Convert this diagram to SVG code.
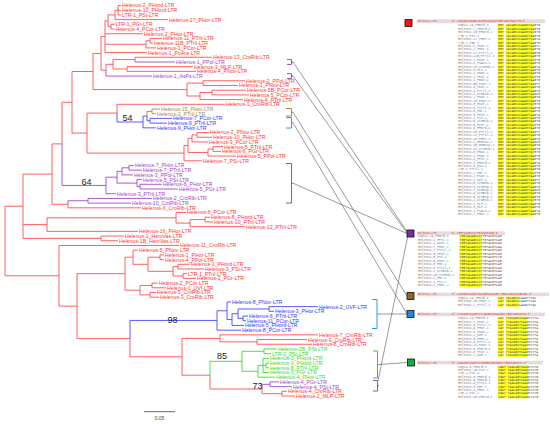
<svg xmlns="http://www.w3.org/2000/svg" width="550" height="424" viewBox="0 0 550 424">
<style>
text{font-family:"Liberation Sans",Arial,sans-serif}
.l{font-size:5.2px}
.r{fill:#ff3535}.p{fill:#a43fc4}.b{fill:#3636ff}.t{fill:#a8884c}.g{fill:#2fdc2f}
path{fill:none;stroke-width:0.9}
.sr{stroke:#ff4f4f}.sp{stroke:#a447c8}.sb{stroke:#4848ff}.st{stroke:#a8884c}.sg{stroke:#2fe02f}
.bk{stroke-width:1}
.bs{font-size:9px;fill:#222}
.con{stroke:#555;stroke-width:0.6}
.nm{font-family:"Liberation Mono","Courier New",monospace;font-size:3.2px;fill:#777}
.sq{font-family:"Liberation Mono","Courier New",monospace;font-size:3.2px;fill:#555}
.hd{font-family:"Liberation Mono","Courier New",monospace;font-size:2.8px;fill:#ff3030}
.hb{fill:#e4dcdc}
.y{fill:#ffff22}
.mk{stroke:#111;stroke-width:0.8}
</style>
<g id="tree-branches">
<path class="sr" d="M118 5.5V14.91M118 5.5H121M118 10.21H121M118 14.91H121M115 10.21V19.62M115 10.21H118M115 19.62H168M111 24.32V29.03M111 24.32H114.5M111 29.03H114.5M108 14.9V26.7M108 14.9H115M108 26.7H111M150 38.44V43.14M150 38.44H162M150 43.14H153M146 40.8V47.85M146 40.8H150M146 47.85H156M105 20.8V52.55M105 20.8H108M105 33.73H143M105 44.3H146M105 52.55H147M135 57.26V59.6M135 57.26H212M127 66.67V71.37M127 66.67H193M127 71.37H196M113 59.6V69M113 59.6H135M113 69H127M106 64.3V70.2M106 64.3H113M101 36.65V70.2M101 36.65H105M101 70.2H106M203 80.78V85.49M203 80.78H245M203 85.49H238M212 90.19V94.9M212 90.19H246M212 94.9H249M200 92.5V99.6M200 92.5H212M200 99.6H243M187 83.1V96M187 83.1H203M187 96H200M93 53.4V89.6M93 53.4H101M93 89.6H187M117 104.31V113.1M117 104.31H225M197 132.54V137.24M197 132.54H209M197 137.24H212M192 134.9V141.95M192 134.9H197M192 141.95H208M213 146.65V151.36M213 146.65H223M213 151.36H221M208 149V156.06M208 149H213M208 156.06H236M188 138.4V152.5M188 138.4H192M188 152.5H208M184 145.45V160.77M184 145.45H188M184 160.77H202M87 113.1V153.1M87 113.1H117M87 153.1H184M72 71.5V133.1M72 71.5H93M72 133.1H87M62 102.3V143.9M62 102.3H72M52 143.9V204.3H68M52 143.9H62M68 204.3V207.82H141M205 217.23V221.93M205 217.23H210M205 221.93H213M190 219.6V226.64M190 219.6H205M190 226.64H245M176 212.52V223.1M176 212.52H186M176 223.1H190M47 217.8V231.34M47 217.8H176M47 231.34H138M23 174.1V238.4M23 174.1H52M23 224.6H47M23 238.4H101M101 236.05V240.75M101 236.05H124M101 240.75H118M5 206.25V275.8M5 206.25H23M5 275.8H59M160 254.87V259.57M160 254.87H164M160 259.57H164M178 264.28V268.98M178 264.28H190M178 268.98H204M183 273.69V278.39M183 273.69H187M183 278.39H196M173 266.63V276.04M173 266.63H178M173 276.04H183M148 257.22V271.3M148 257.22H160M148 271.3H173M133 250.16V264.3M133 250.16H138M133 264.3H148M152 283.1V287.8M152 283.1H158M152 287.8H166M150 292.51V297.21M150 292.51H156M150 297.21H159M140 285.45V294.86M140 285.45H152M140 294.86H150M125 257.2V290.2M125 257.2H133M125 290.2H140M77 273.7V338.6M77 273.7H125M77 338.6H130M59 245.46V306.15M59 245.46H179M59 306.15H77M130 338.6V356.8H182M182 338.4V375.2M182 338.4H220M182 375.2H210M220 334.85V341.9M220 334.85H318M220 341.9H257M257 339.56V344.26M257 339.56H307M257 344.26H312M210 375.2V389H262M262 389V393.7H282M282 391.31V396.02M282 391.31H287M282 396.02H295"/>
<path class="sp" d="M135 59.6V61.96H175M106 70.2V76.08H152M129 165.47V170.18M129 165.47H134M129 170.18H142M122 167.8V174.88M122 167.8H129M122 174.88H133M140 184.29V189M140 184.29H162M140 189H178M137 179.59V186.65M137 179.59H142M137 186.65H140M117 171.35V183.1M117 171.35H122M117 183.1H137M106 177.2V193.7M106 177.2H117M106 193.7H116M62 143.9V185.45H106M68 200.76V204.3M68 200.76H88M88 198.41V203.11M88 198.41H152M88 203.11H131M262 384.3V389M262 384.3H270M270 381.9V386.61M270 381.9H279M270 386.61H292"/>
<path class="st" d="M152 109.01V113.72M152 109.01H160M152 113.72H156M147 111.37V116.1M147 111.37H152"/>
<path class="sb" d="M150 118.42V123.13M150 118.42H172M150 123.13H167M147 116.1V120.78H150M143 116.1V127.83M143 116.1H147M143 127.83H156M117 113.1V121.97H143M269 306.62V311.33M269 306.62H318M269 311.33H274M243 316.03V320.74M243 316.03H248M243 320.74H246M238 308.98V318.39M238 308.98H269M238 318.39H243M232 313.7V325.44M232 313.7H238M232 325.44H244M227 301.92V319.57M227 301.92H231M227 319.57H232M217 310.75V330.15M217 310.75H227M217 330.15H241M130 320.45V338.6M130 320.45H217"/>
<path class="sg" d="M264 348.97V353.67M264 348.97H277M264 353.67H271M266 363.08V367.79M266 363.08H269M266 367.79H269M263 358.38V372.49M263 358.38H269M263 365.4H266M263 372.49H269M258 365.4V377.2M258 365.4H263M258 377.2H275M242 351.32V371.3M242 351.32H264M242 371.3H258M210 361.3V375.2M210 361.3H242"/>
</g>
<g id="support-values">
<text class="bs" x="122.5" y="121">54</text>
<text class="bs" x="81.5" y="184.5">64</text>
<text class="bs" x="167.5" y="323">98</text>
<text class="bs" x="217" y="358.8">85</text>
<text class="bs" x="252.5" y="388.5">73</text>
</g>
<g id="scale-bar">
<path d="M144 411.7H175" style="stroke:#444;stroke-width:0.8"/>
<text x="159.5" y="419.5" style="font-size:5px;fill:#444" text-anchor="middle">0.05</text>
</g>
<g id="leaf-labels" class="l">
<text class="r" x="122" y="7.4">Helenus-2_PHord-LTR</text>
<text class="r" x="122" y="12.1">Helenus-10_PHord-LTR</text>
<text class="r" x="122" y="16.8">LTR-1_PSt-LTR</text>
<text class="r" x="169" y="21.5">Helenus-17_PHor-LTR</text>
<text class="r" x="115.5" y="26.2">LTR-1_PGt-LTR</text>
<text class="r" x="115.5" y="30.9">Helenus-4_PCor-LTR</text>
<text class="r" x="144" y="35.6">Helenus-2_PHor-LTR</text>
<text class="r" x="163" y="40.3">Helenus-11_PTril-LTR</text>
<text class="r" x="154" y="45">Helenus-11B_PTril-LTR</text>
<text class="r" x="157" y="49.8">Helenus-1_PCor-LTR</text>
<text class="r" x="148" y="54.5">Helenus-1_PuAra-LTR</text>
<text class="r" x="213" y="59.2">Helenus-13_CroRib-LTR</text>
<text class="p" x="176" y="63.9">Helenus-1_PPol-LTR</text>
<text class="r" x="194" y="68.6">Helenus-3_MLP-LTR</text>
<text class="r" x="197" y="73.3">Helenus-4_PNov-LTR</text>
<text class="p" x="153" y="78">Helenus-1_AsPs-LTR</text>
<text class="r" x="246" y="82.7">Helenus-2_PPol-LTR</text>
<text class="r" x="239" y="87.4">Helenus-1_PNov-LTR</text>
<text class="r" x="247" y="92.1">Helenus-5B_PCor-LTR</text>
<text class="r" x="250" y="96.8">Helenus-5_PCor-LTR</text>
<text class="r" x="244" y="101.5">Helenus-4_PTril-LTR</text>
<text class="r" x="226" y="106.2">Helenus-1_CroRib-LTR</text>
<text class="t" x="161" y="110.9">Helenus-15_PHor-LTR</text>
<text class="t" x="157" y="115.6">Helenus-2_PTril-LTR</text>
<text class="b" x="173" y="120.3">Helenus-7_PCor-LTR</text>
<text class="b" x="168" y="125">Helenus-9_PTril-LTR</text>
<text class="b" x="157" y="129.7">Helenus-9_PHor-LTR</text>
<text class="r" x="210" y="134.4">Helenus-2_PNov-LTR</text>
<text class="r" x="213" y="139.1">Helenus-10_PHor-LTR</text>
<text class="r" x="209" y="143.9">Helenus-3_PCor-LTR</text>
<text class="r" x="224" y="148.6">Helenus-5_PTril-LTR</text>
<text class="r" x="222" y="153.3">Helenus-6_PGr-LTR</text>
<text class="r" x="237" y="158">Helenus-5_PPol-LTR</text>
<text class="r" x="203" y="162.7">Helenus-7_PSt-LTR</text>
<text class="p" x="135" y="167.4">Helenus-7_PHor-LTR</text>
<text class="p" x="143" y="172.1">Helenus-7_PTril-LTR</text>
<text class="p" x="134" y="176.8">Helenus-3_PPol-LTR</text>
<text class="p" x="143" y="181.5">Helenus-5_PSt-LTR</text>
<text class="p" x="163" y="186.2">Helenus-6_PHor-LTR</text>
<text class="p" x="179" y="190.9">Helenus-5_PGr-LTR</text>
<text class="p" x="117" y="195.6">Helenus-3_PTril-LTR</text>
<text class="p" x="153" y="200.3">Helenus-2_CroRib-LTR</text>
<text class="p" x="132" y="205">Helenus-10_CroRib-LTR</text>
<text class="r" x="142" y="209.7">Helenus-6_CroRib-LTR</text>
<text class="r" x="187" y="214.4">Helenus-6_PCor-LTR</text>
<text class="r" x="211" y="219.1">Helenus-8_PHord-LTR</text>
<text class="r" x="214" y="223.8">Helenus-10_PTril-LTR</text>
<text class="r" x="246" y="228.5">Helenus-12_PTril-LTR</text>
<text class="r" x="139" y="233.2">Helenus-16_PHor-LTR</text>
<text class="r" x="125" y="238">Helenus-1_HemVas-LTR</text>
<text class="r" x="119" y="242.7">Helenus-1B_HemVas-LTR</text>
<text class="r" x="180" y="247.4">Helenus-11_CroRib-LTR</text>
<text class="r" x="139" y="252.1">Helenus-5_PNov-LTR</text>
<text class="r" x="165" y="256.8">Helenus-1_PHor-LTR</text>
<text class="r" x="165" y="261.5">Helenus-4_PPol-LTR</text>
<text class="r" x="191" y="266.2">Helenus-1_PHord-LTR</text>
<text class="r" x="205" y="270.9">Helenus-3_PSt-LTR</text>
<text class="r" x="188" y="275.6">LTR-1_PTril-LTR</text>
<text class="r" x="197" y="280.3">Helenus-2_PGr-LTR</text>
<text class="r" x="159" y="285">Helenus-2_PCor-LTR</text>
<text class="r" x="167" y="289.7">Helenus-1_UVf-LTR</text>
<text class="r" x="157" y="294.4">Helenus-5_CroRib-LTR</text>
<text class="r" x="160" y="299.1">Helenus-3_CroRib-LTR</text>
<text class="b" x="232" y="303.8">Helenus-8_PNov-LTR</text>
<text class="b" x="319" y="308.5">Helenus-2_UVF-LTR</text>
<text class="b" x="275" y="313.2">Helenus-3_PHor-LTR</text>
<text class="b" x="249" y="317.9">Helenus-6_PTril-LTR</text>
<text class="b" x="247" y="322.6">Helenus-11_PCor-LTR</text>
<text class="b" x="245" y="327.3">Helenus-5_PHord-LTR</text>
<text class="b" x="242" y="332.1">Helenus-8_PCor-LTR</text>
<text class="r" x="319" y="336.8">Helenus-7_CroRib-LTR</text>
<text class="r" x="308" y="341.5">Helenus-9_CroRib-LTR</text>
<text class="r" x="313" y="346.2">Helenus-8_CroRib-LTR</text>
<text class="g" x="278" y="350.9">Helenus-2B_PSt-LTR</text>
<text class="g" x="272" y="355.6">LTR-2_PSt-LTR</text>
<text class="g" x="270" y="360.3">Helenus-3_PHord-LTR</text>
<text class="g" x="270" y="365">Helenus-9_PHord-LTR</text>
<text class="g" x="270" y="369.7">Helenus-8_PTril-LTR</text>
<text class="g" x="270" y="374.4">Helenus-3_PGr-LTR</text>
<text class="g" x="276" y="379.1">Helenus-4_PHor-LTR</text>
<text class="p" x="280" y="383.8">Helenus-4_PGr-LTR</text>
<text class="p" x="293" y="388.5">Helenus-4_PSt-LTR</text>
<text class="r" x="288" y="393.2">Helenus-4_CroRib-LTR</text>
<text class="r" x="296" y="397.9">Helenus-2_MLP-LTR</text>
</g>
<g id="brackets">
<path class="sp bk" d="M287 59.6H291.5V64.4H287M291.5 62H293"/>
<path class="sp bk" d="M287 73.7H291.5V78.4H287M291.5 76H293"/>
<path class="st bk" d="M286 108.5H291.5V116H286M291.5 112.2H293"/>
<path class="bk" style="stroke:#3a9ad9" d="M286 117.6H291.5V128H286M291.5 122.8H293"/>
<path class="sp bk" d="M286 163.5H291.5V203H286M291.5 183.2H293"/>
<path class="bk" style="stroke:#3a9ad9" d="M372 299.5H377V328.5H372M377 314H379"/>
<path class="bk" style="stroke:#3cc83c" d="M373 351H377.5V378H373M377.5 364.5H379"/>
<path class="sp bk" d="M373 380.5H377.5V391H373M377.5 385.7H379"/>
</g>
<g id="connectors">
<path class="con" d="M293 62L407 231.5M293 76L407 233M293 112.2L407 296M293 122.8L407 314M293 183.2L407 233.5M379 314H407M379 364.5L407.5 362.5M378 381L408 235"/>
</g>
<g id="marker-red"><rect class="mk" x="405" y="19.5" width="7" height="7" fill="#ff1010"/></g>
<g id="marker-purple"><rect class="mk" x="407" y="230" width="7" height="7" fill="#7a2aa8"/></g>
<g id="marker-tan"><rect class="mk" x="407" y="292.5" width="7" height="7" fill="#8b6a1e"/></g>
<g id="marker-blue"><rect class="mk" x="407" y="310.5" width="7" height="7" fill="#1e8ae8"/></g>
<g id="marker-green"><rect class="mk" x="407.5" y="359" width="7" height="7" fill="#10b040"/></g>
<g id="align-red">
<rect class="hb" x="416.5" y="19.4" width="128.5" height="3.8"/>
<text class="hd" x="418" y="22.3">Helenus-LTR</text>
<text class="hd" x="452" y="22.3">5'-TACAGCCCAAGCTACGTCAACAATCGGTAGCTGACTTG-3'</text>
<rect class="y" x="497.8" y="23.6" width="6.2" height="193"/>
<rect class="y" x="505.6" y="23.6" width="27.6" height="193"/>
<text class="nm" x="458" y="26.4"><tspan x="458">Copia-29_PHord-I</tspan><tspan x="458" dy="3.43">Helenus-2_PHord-1</tspan><tspan x="458" dy="3.43">Helenus-10_PHord-1</tspan><tspan x="458" dy="3.43">LTR-1_PSt-1</tspan><tspan x="458" dy="3.43">Helenus-17_PHor-1</tspan><tspan x="458" dy="3.43">LTR-1_PGt-1</tspan><tspan x="458" dy="3.43">Helenus-4_PCor-1</tspan><tspan x="458" dy="3.43">Helenus-2_PHor-1</tspan><tspan x="458" dy="3.43">Helenus-11_PTril-1</tspan><tspan x="458" dy="3.43">Helenus-11B_PTril-1</tspan><tspan x="458" dy="3.43">Helenus-1_PCor-1</tspan><tspan x="458" dy="3.43">Helenus-1_PuAra-1</tspan><tspan x="458" dy="3.43">Helenus-13_CroRib-1</tspan><tspan x="458" dy="3.43">Helenus-3_MLP-1</tspan><tspan x="458" dy="3.43">Helenus-4_PNov-1</tspan><tspan x="458" dy="3.43">Helenus-2_PPol-1</tspan><tspan x="458" dy="3.43">Helenus-1_PNov-1</tspan><tspan x="458" dy="3.43">Helenus-5B_PCor-1</tspan><tspan x="458" dy="3.43">Helenus-5_PCor-1</tspan><tspan x="458" dy="3.43">Helenus-4_PTril-1</tspan><tspan x="458" dy="3.43">Helenus-1_CroRib-1</tspan><tspan x="458" dy="3.43">Helenus-2_PNov-1</tspan><tspan x="458" dy="3.43">Helenus-10_PHor-1</tspan><tspan x="458" dy="3.43">Helenus-3_PCor-1</tspan><tspan x="458" dy="3.43">Helenus-5_PTril-1</tspan><tspan x="458" dy="3.43">Helenus-6_PGr-1</tspan><tspan x="458" dy="3.43">Helenus-5_PPol-1</tspan><tspan x="458" dy="3.43">Helenus-7_PSt-1</tspan><tspan x="458" dy="3.43">Helenus-6_CroRib-1</tspan><tspan x="458" dy="3.43">Helenus-6_PCor-1</tspan><tspan x="458" dy="3.43">Helenus-8_PHord-1</tspan><tspan x="458" dy="3.43">Helenus-10_PTril-1</tspan><tspan x="458" dy="3.43">Helenus-12_PTril-1</tspan><tspan x="458" dy="3.43">Helenus-16_PHor-1</tspan><tspan x="458" dy="3.43">Helenus-1_HemVas-1</tspan><tspan x="458" dy="3.43">Helenus-1B_HemVas-1</tspan><tspan x="458" dy="3.43">Helenus-11_CroRib-1</tspan><tspan x="458" dy="3.43">Helenus-5_PNov-1</tspan><tspan x="458" dy="3.43">Helenus-1_PHor-1</tspan><tspan x="458" dy="3.43">Helenus-4_PPol-1</tspan><tspan x="458" dy="3.43">Helenus-1_PHord-1</tspan><tspan x="458" dy="3.43">Helenus-3_PSt-1</tspan><tspan x="458" dy="3.43">LTR-1_PTril-1</tspan><tspan x="458" dy="3.43">Helenus-2_PGr-1</tspan><tspan x="458" dy="3.43">Helenus-2_PCor-1</tspan><tspan x="458" dy="3.43">Helenus-1_UVf-1</tspan><tspan x="458" dy="3.43">Helenus-5_CroRib-1</tspan><tspan x="458" dy="3.43">Helenus-3_CroRib-1</tspan><tspan x="458" dy="3.43">Helenus-7_CroRib-1</tspan><tspan x="458" dy="3.43">Helenus-9_CroRib-1</tspan><tspan x="458" dy="3.43">Helenus-8_CroRib-1</tspan><tspan x="458" dy="3.43">Helenus-4_CroRib-1</tspan><tspan x="458" dy="3.43">Helenus-2_MLP-1</tspan><tspan x="458" dy="3.43">Helenus-3_MLP-2</tspan><tspan x="458" dy="3.43">Helenus-1_PuAra-2</tspan><tspan x="458" dy="3.43">Helenus-2_PHor-2</tspan></text>
<text class="sq" x="498" y="26.4"><tspan x="498">GGT TACAGCCCAAGCTAAGTG</tspan><tspan x="498" dy="3.43">GGT TACAGCCCAAGCTAAGTG</tspan><tspan x="498" dy="3.43">GGT TACAGCCCAAGCTACGTG</tspan><tspan x="498" dy="3.43">GGT TACAGCCCAAGCTAAGTG</tspan><tspan x="498" dy="3.43">GGT TACAGCCCAAGCTCAGTA</tspan><tspan x="498" dy="3.43">GGT TACAGCCCAAGCTAAGTG</tspan><tspan x="498" dy="3.43">GGT TACAGCCCAAGCTAAGTC</tspan><tspan x="498" dy="3.43">GGT TACAGCCCAAGCTAAGTG</tspan><tspan x="498" dy="3.43">GGT TACAGCCCAAGCTAAGCG</tspan><tspan x="498" dy="3.43">GGT TACAGCCCAAGCTAAGTG</tspan><tspan x="498" dy="3.43">GGT TACAGCCCAAGCTATGTG</tspan><tspan x="498" dy="3.43">GGT TACAGCCCAAGCTAAGTG</tspan><tspan x="498" dy="3.43">GGT TACAGCCCAAGCTAAGTA</tspan><tspan x="498" dy="3.43">GGT TACAGCCCAAGCTAAGTG</tspan><tspan x="498" dy="3.43">GGT TACAGCCCAAGCTAAGTG</tspan><tspan x="498" dy="3.43">GGT TACAGCCCAAGCTACGTG</tspan><tspan x="498" dy="3.43">GGT TACAGCCCAAGCTAAGTG</tspan><tspan x="498" dy="3.43">GGT TACAGCCCAAGCTAAGTC</tspan><tspan x="498" dy="3.43">GGT TACAGCCCAAGCTAAGTG</tspan><tspan x="498" dy="3.43">GGT TACAGCCCAAGCTAAGTG</tspan><tspan x="498" dy="3.43">GGT TACAGCCCAAGCTAAGCG</tspan><tspan x="498" dy="3.43">GGT TACAGCCCAAGCTAAGTG</tspan><tspan x="498" dy="3.43">GGT TACAGCCCAAGCTAAGTG</tspan><tspan x="498" dy="3.43">GGT TACAGCCCAAGCTATGTG</tspan><tspan x="498" dy="3.43">GGT TACAGCCCAAGCTAAGTG</tspan><tspan x="498" dy="3.43">GGT TACAGCCCAAGCTAAGTG</tspan><tspan x="498" dy="3.43">GGT TACAGCCCAAGCTAAGTA</tspan><tspan x="498" dy="3.43">GGT TACAGCCCAAGCTAAGTG</tspan><tspan x="498" dy="3.43">GGT TACAGCCCAAGCTAAGTG</tspan><tspan x="498" dy="3.43">GGT TACAGCCCAAGCTACGTG</tspan><tspan x="498" dy="3.43">GGT TACAGCCCAAGCTAAGTG</tspan><tspan x="498" dy="3.43">GGT TACAGCCCAAGCTAAGTC</tspan><tspan x="498" dy="3.43">GGT TACAGCCCAAGCTAAGTG</tspan><tspan x="498" dy="3.43">GGT TACAGCCCAAGCTAAGTG</tspan><tspan x="498" dy="3.43">GGT TACAGCCCAAGCTAAGCG</tspan><tspan x="498" dy="3.43">GGT TACAGCCCAAGCTAAGTG</tspan><tspan x="498" dy="3.43">GGT TACAGCCCAAGCTAAGTG</tspan><tspan x="498" dy="3.43">GGT TACAGCCCAAGCTATGTG</tspan><tspan x="498" dy="3.43">GGT TACAGCCCAAGCTAAGTG</tspan><tspan x="498" dy="3.43">GGT TACAGCCCAAGCTAAGTG</tspan><tspan x="498" dy="3.43">GGT TACAGCCCAAGCTAAGTA</tspan><tspan x="498" dy="3.43">GGT TACAGCCCAAGCTAAGTG</tspan><tspan x="498" dy="3.43">GGT TACAGCCCAAGCTAAGTG</tspan><tspan x="498" dy="3.43">GGT TACAGCCCAAGCTACGTG</tspan><tspan x="498" dy="3.43">GGT TACAGCCCAAGCTAAGTG</tspan><tspan x="498" dy="3.43">GGT TACAGCCCAAGCTAAGTC</tspan><tspan x="498" dy="3.43">GGT TACAGCCCAAGCTAAGTG</tspan><tspan x="498" dy="3.43">GGT TACAGCCCAAGCTAAGTG</tspan><tspan x="498" dy="3.43">GGT TACAGCCCAAGCTAAGCG</tspan><tspan x="498" dy="3.43">GGT TACAGCCCAAGCTAAGTG</tspan><tspan x="498" dy="3.43">GGT TACAGCCCAAGCTAAGTG</tspan><tspan x="498" dy="3.43">GGT TACAGCCCAAGCTATGTG</tspan><tspan x="498" dy="3.43">GGT TACAGCCCAAGCTAAGTG</tspan><tspan x="498" dy="3.43">GGT TACAGCCCAAGCTAAGTG</tspan><tspan x="498" dy="3.43">GGT TACAGCCCAAGCTAAGTA</tspan><tspan x="498" dy="3.43">GGT TACAGCCCAAGCTAAGTG</tspan></text>
</g>
<g id="align-purple">
<rect class="hb" x="417" y="231.4" width="88" height="3.6"/>
<text class="hd" x="418" y="234.2">Helenus-LTR</text>
<text class="hd" x="452" y="234.2">5'-TGGTACAGCCCTTGTACGTCAG-3'</text>
<rect class="y" x="459.3" y="234.8" width="22.5" height="52.5"/>
<text class="nm" x="418" y="237.4"><tspan x="418">Copia-29_PHord-I</tspan><tspan x="418" dy="3.5">Helenus-1_PPol-1</tspan><tspan x="418" dy="3.5">Helenus-1_AsPs-1</tspan><tspan x="418" dy="3.5">Helenus-7_PHor-1</tspan><tspan x="418" dy="3.5">Helenus-7_PTril-1</tspan><tspan x="418" dy="3.5">Helenus-3_PPol-1</tspan><tspan x="418" dy="3.5">Helenus-5_PSt-1</tspan><tspan x="418" dy="3.5">Helenus-6_PHor-1</tspan><tspan x="418" dy="3.5">Helenus-5_PGr-1</tspan><tspan x="418" dy="3.5">Helenus-3_PTril-1</tspan><tspan x="418" dy="3.5">Helenus-2_CroRib-1</tspan><tspan x="418" dy="3.5">Helenus-10_CroRib-1</tspan><tspan x="418" dy="3.5">Helenus-4_PGr-1</tspan><tspan x="418" dy="3.5">Helenus-4_PSt-1</tspan><tspan x="418" dy="3.5">Helenus-7_PHor-2</tspan></text>
<text class="sq" x="459.5" y="237.4"><tspan x="459.5">TGGTACAGCCCTTGTACGTCAG</tspan><tspan x="459.5" dy="3.5">TGGTACAGCCCTTGTACGTCAG</tspan><tspan x="459.5" dy="3.5">TGGTACAGCCCTTGTACGTCAG</tspan><tspan x="459.5" dy="3.5">TGGTACAGCCCTTGTACGTCAA</tspan><tspan x="459.5" dy="3.5">TGGTACAGCCCTTGTACGTCAG</tspan><tspan x="459.5" dy="3.5">TGGTACAGCCCTTGTACGTCAG</tspan><tspan x="459.5" dy="3.5">TGGTACAGCCCTTGTACGTCTG</tspan><tspan x="459.5" dy="3.5">TGGTACAGCCCTTGTACGTCAG</tspan><tspan x="459.5" dy="3.5">TGGTACAGCCCTTGTACGTCAG</tspan><tspan x="459.5" dy="3.5">TGGTACAGCCCTTGTACGTCAG</tspan><tspan x="459.5" dy="3.5">TGGTACAGCCCTTGTACGTCAA</tspan><tspan x="459.5" dy="3.5">TGGTACAGCCCTTGTACGTCAG</tspan><tspan x="459.5" dy="3.5">TGGTACAGCCCTTGTACGTCAG</tspan><tspan x="459.5" dy="3.5">TGGTACAGCCCTTGTACGTCAG</tspan><tspan x="459.5" dy="3.5">TGGTACAGCCCTTGTACGTCAG</tspan></text>
</g>
<g id="align-tan">
<rect class="hb" x="417" y="292.6" width="132" height="3.6"/>
<text class="hd" x="418" y="295.4">Helenus-LTR</text>
<text class="hd" x="452" y="295.4">5'-TACAGCCCAAGTTCACGGTACAAGCTTGGCTAGCATCGATGC-3'</text>
<rect class="y" x="497.8" y="296.6" width="6.2" height="10.2"/>
<rect class="y" x="505.6" y="296.6" width="13.8" height="10.2"/>
<text class="nm" x="458" y="298.6"><tspan x="458">Copia-29_PHord-I</tspan><tspan x="458" dy="3.6">Helenus-15_PHor-1</tspan><tspan x="458" dy="3.6">Helenus-2_PTril-1</tspan></text>
<text class="sq" x="498" y="298.6"><tspan x="498">CAT TACAGCCCAAGTTCAC</tspan><tspan x="498" dy="3.6">CAT TACAGCCCAAGTTCAC</tspan><tspan x="498" dy="3.6">CAT TACAGCCCAAGTTCAC</tspan></text>
</g>
<g id="align-blue">
<rect class="hb" x="417" y="312.6" width="128" height="3.6"/>
<text class="hd" x="418" y="315.4">Helenus-LTR</text>
<text class="hd" x="452" y="315.4">5'-TTACAGCTCAAGTCTTACGGTAGCAAGCTTGGCTAGCATCG-3'</text>
<rect class="y" x="497.8" y="316.8" width="6.2" height="40.4"/>
<rect class="y" x="505.6" y="316.8" width="21.5" height="40.4"/>
<text class="nm" x="458" y="319.4"><tspan x="458">Copia-29_PHord-I</tspan><tspan x="458" dy="3.35">Helenus-7_PCor-1</tspan><tspan x="458" dy="3.35">Helenus-9_PTril-1</tspan><tspan x="458" dy="3.35">Helenus-9_PHor-1</tspan><tspan x="458" dy="3.35">Helenus-8_PNov-1</tspan><tspan x="458" dy="3.35">Helenus-2_UVF-1</tspan><tspan x="458" dy="3.35">Helenus-3_PHor-1</tspan><tspan x="458" dy="3.35">Helenus-6_PTril-1</tspan><tspan x="458" dy="3.35">Helenus-11_PCor-1</tspan><tspan x="458" dy="3.35">Helenus-5_PHord-1</tspan><tspan x="458" dy="3.35">Helenus-8_PCor-1</tspan><tspan x="458" dy="3.35">Helenus-2_UVF-2</tspan></text>
<text class="sq" x="498" y="319.4"><tspan x="498">CAT TTACAGCTCAAGTCTTA</tspan><tspan x="498" dy="3.35">CAT TTACAGCTCAAGTCTTA</tspan><tspan x="498" dy="3.35">CAT TTACAGCTCAAGTCTTA</tspan><tspan x="498" dy="3.35">CAT TTACAGCTCAAGTCTCA</tspan><tspan x="498" dy="3.35">CAT TTACAGCTCAAGTCTTA</tspan><tspan x="498" dy="3.35">CAT TTACAGCTCAAGTCTTA</tspan><tspan x="498" dy="3.35">CAT TTACAGCTCAAGTCTTA</tspan><tspan x="498" dy="3.35">CAT TTACAGCTCAAGTCTTG</tspan><tspan x="498" dy="3.35">CAT TTACAGCTCAAGTCTTA</tspan><tspan x="498" dy="3.35">CAT TTACAGCTCAAGTCTTA</tspan><tspan x="498" dy="3.35">CAT TTACAGCTCAAGTCTTA</tspan><tspan x="498" dy="3.35">CAT TTACAGCTCAAGTCTTA</tspan></text>
</g>
<g id="align-green">
<rect class="hb" x="417" y="360.8" width="126" height="3.6"/>
<text class="hd" x="418" y="363.6">Helenus-LTR</text>
<text class="hd" x="452" y="363.6">5'-TAACAGTCAAGCTCTGCGGTAGCAAGCTTGGCTAGCATC-3'</text>
<rect class="y" x="497.8" y="365" width="30" height="33.4"/>
<text class="nm" x="458" y="367.8"><tspan x="458">Copia-6_PHord-I</tspan><tspan x="458" dy="3.33">Helenus-2B_PSt-1</tspan><tspan x="458" dy="3.33">LTR-2_PSt-1</tspan><tspan x="458" dy="3.33">Helenus-3_PHord-1</tspan><tspan x="458" dy="3.33">Helenus-9_PHord-1</tspan><tspan x="458" dy="3.33">Helenus-8_PTril-1</tspan><tspan x="458" dy="3.33">Helenus-3_PGr-1</tspan><tspan x="458" dy="3.33">Helenus-4_PHor-1</tspan><tspan x="458" dy="3.33">LTR-2_PSt-2</tspan><tspan x="458" dy="3.33">Helenus-2B_PHord-1</tspan></text>
<text class="sq" x="498" y="367.8"><tspan x="498">CGAT TAACAGTCAAGCTCTG</tspan><tspan x="498" dy="3.33">CGAT TAACAGTCAAGCTCTG</tspan><tspan x="498" dy="3.33">CGAT TAACAGTCAAGCTCTG</tspan><tspan x="498" dy="3.33">CGAT TAACAGTCAAGCTCTG</tspan><tspan x="498" dy="3.33">CGAT TAACAGTCAAGCTCTA</tspan><tspan x="498" dy="3.33">CGAT TAACAGTCAAGCTCTG</tspan><tspan x="498" dy="3.33">CGAT TAACAGTCAAGCTCTG</tspan><tspan x="498" dy="3.33">CGAT TAACAGTCAAGCTCTG</tspan><tspan x="498" dy="3.33">CGAT TAACAGTCAAGCTCTG</tspan><tspan x="498" dy="3.33">CGAT TAACAGTCAAGCTCTG</tspan></text>
</g>
</svg>
